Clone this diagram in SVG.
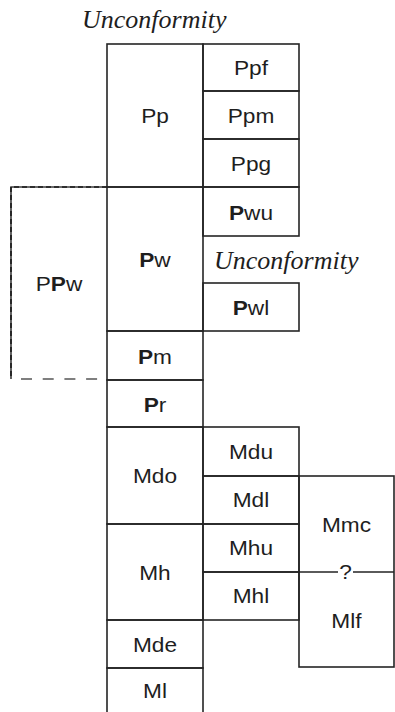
<svg xmlns="http://www.w3.org/2000/svg" width="395" height="712" viewBox="0 0 395 712">
  <style>
    .box { fill: none; stroke: #252525; stroke-width: 1.6; }
    .line { fill: none; stroke: #252525; stroke-width: 1.6; }
    .t { font-family: "Liberation Sans", Arial, sans-serif; font-size: 21px; fill: #1e1e1e; text-anchor: middle;
         transform-box: fill-box; transform-origin: center; transform: scaleX(1.08); }
    .pa { font-weight: bold; }
    .u { font-family: "Liberation Serif", "Times New Roman", serif; font-style: italic; font-size: 26px; fill: #1e1e1e; }
    .dash-under { fill: none; stroke: #3c3c3c; stroke-width: 1.6; }
    .dash-over { fill: none; stroke: #1a1a1a; stroke-width: 1.6; stroke-dasharray: 5 3; }
    .dash-open { fill: none; stroke: #555; stroke-width: 1.6; stroke-dasharray: 11 10.7; }
  </style>

  <text class="u" x="82" y="28">Unconformity</text>

  <!-- Permian -->
  <g id="Pp"><rect class="box" x="107" y="44" width="96" height="143"/><text class="t" x="155" y="123">Pp</text></g>
  <g id="Ppf"><rect class="box" x="203" y="44" width="96" height="47"/><text class="t" x="251" y="75">Ppf</text></g>
  <g id="Ppm"><rect class="box" x="203" y="91" width="96" height="48"/><text class="t" x="251" y="123">Ppm</text></g>
  <g id="Ppg"><rect class="box" x="203" y="139" width="96" height="48"/><text class="t" x="251" y="171">Ppg</text></g>

  <!-- Pennsylvanian -->
  <g id="PPw">
    <path class="dash-under" d="M107 187H11V379"/>
    <path class="dash-over" d="M107 187H11V379"/>
    <path class="dash-open" d="M21 379H98"/>
    <text class="t" x="59" y="291">P<tspan class="pa">P</tspan>w</text>
  </g>
  <g id="Pw"><rect class="box" x="107" y="187" width="96" height="144"/><text class="t" x="155" y="267"><tspan class="pa">P</tspan>w</text></g>
  <g id="Pwu"><rect class="box" x="203" y="187" width="96" height="49"/><text class="t" x="251" y="220"><tspan class="pa">P</tspan>wu</text></g>
  <text class="u" x="214" y="269">Unconformity</text>
  <g id="Pwl"><rect class="box" x="203" y="283" width="96" height="48"/><text class="t" x="251" y="315"><tspan class="pa">P</tspan>wl</text></g>
  <g id="Pm"><rect class="box" x="107" y="331" width="96" height="49"/><text class="t" x="155" y="364"><tspan class="pa">P</tspan>m</text></g>
  <g id="Pr"><rect class="box" x="107" y="380" width="96" height="47"/><text class="t" x="155" y="412"><tspan class="pa">P</tspan>r</text></g>

  <!-- Mississippian -->
  <g id="Mdo"><rect class="box" x="107" y="427" width="96" height="97"/><text class="t" x="155" y="483">Mdo</text></g>
  <g id="Mdu"><rect class="box" x="203" y="427" width="96" height="49"/><text class="t" x="251" y="459">Mdu</text></g>
  <g id="Mdl"><rect class="box" x="203" y="476" width="96" height="48"/><text class="t" x="251" y="507">Mdl</text></g>
  <g id="Mh"><rect class="box" x="107" y="524" width="96" height="96"/><text class="t" x="155" y="580">Mh</text></g>
  <g id="Mhu"><rect class="box" x="203" y="524" width="96" height="48"/><text class="t" x="251" y="555">Mhu</text></g>
  <g id="Mhl"><rect class="box" x="203" y="572" width="96" height="48"/><text class="t" x="251" y="603">Mhl</text></g>
  <g id="Mde"><rect class="box" x="107" y="620" width="96" height="48"/><text class="t" x="155" y="652">Mde</text></g>
  <g id="Ml"><rect class="box" x="107" y="668" width="96" height="60"/><text class="t" x="155" y="698">Ml</text></g>

  <g id="Mmc-Mlf">
    <rect class="box" x="299" y="476" width="95" height="191"/>
    <text class="t" x="346.5" y="532">Mmc</text>
    <text class="t" x="346.5" y="628">Mlf</text>
  </g>

  <g id="connectors">
    <path class="line" d="M299 572H338M353 572H394"/>
    <text class="t" x="345.5" y="579">?</text>
  </g>
</svg>
